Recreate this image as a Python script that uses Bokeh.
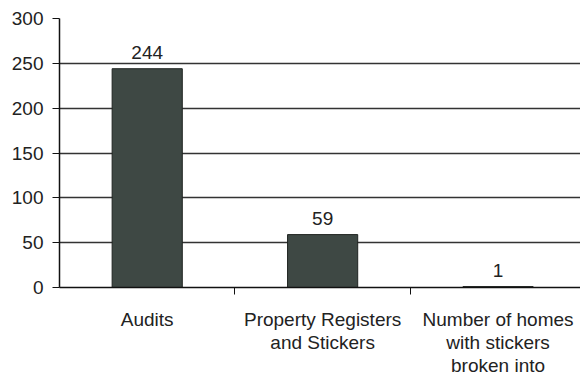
from bokeh.plotting import figure
from bokeh.models import Range1d, FixedTicker, ColumnDataSource
from bokeh.core.properties import value
from bokeh.embed import file_html
from bokeh.resources import INLINE

categories = ["Audits", "Property Registers\nand Stickers", "Number of homes\nwith stickers\nbroken into"]
counts = [244, 59, 1]
y_ticks = [0, 50, 100, 150, 200, 250, 300]

xs = [i + 1 for i in range(len(categories))]
src = ColumnDataSource(dict(x=xs, top=counts, label=[str(c) for c in counts]))

FONT = "Liberation Sans"
FS = "19px"

p = figure(width=580, height=378, output_backend="svg", toolbar_location=None,
           x_range=Range1d(0.5, 3.47), y_range=Range1d(0, 300),
           min_border_left=59, min_border_top=18, min_border_right=0, min_border_bottom=89)
p.outline_line_color = None
p.background_fill_color = "white"
p.border_fill_color = "white"

p.vbar(x="x", top="top", width=0.4, bottom=0, source=src,
       fill_color="#3e4844", line_color="#1f2421", line_width=1)

p.text(x="x", y="top", text="label", source=src, text_align="center",
       text_baseline="bottom", y_offset=-10, text_font=value(FONT),
       text_font_size=FS, text_color="#222222")

# y axis
p.yaxis.ticker = FixedTicker(ticks=y_ticks)
p.yaxis.axis_line_color = "#111111"
p.yaxis.axis_line_width = 1.5
p.yaxis.major_tick_line_color = "#111111"
p.yaxis.major_tick_out = 7
p.yaxis.major_tick_in = 0
p.yaxis.minor_tick_line_color = None
p.yaxis.major_label_text_font = FONT
p.yaxis.major_label_text_font_size = FS
p.yaxis.major_label_text_color = "#222222"
p.yaxis.major_label_standoff = 9

# x axis
p.xaxis.ticker = FixedTicker(ticks=xs, minor_ticks=[1.5, 2.5, 3.5])
p.xaxis.major_label_overrides = {x: c for x, c in zip(xs, categories)}
p.xaxis.axis_line_color = "#111111"
p.xaxis.axis_line_width = 1.5
p.xaxis.major_tick_line_color = None
p.xaxis.major_tick_out = 7
p.xaxis.major_tick_in = 0
p.xaxis.minor_tick_line_color = "#111111"
p.xaxis.minor_tick_out = 7
p.xaxis.minor_tick_in = 0
p.xaxis.major_label_text_font = FONT
p.xaxis.major_label_text_font_size = FS
p.xaxis.major_label_text_color = "#222222"
p.xaxis.major_label_text_line_height = 1.1
p.xaxis.major_label_standoff = 14

p.xgrid.grid_line_color = None
p.ygrid.ticker = FixedTicker(ticks=y_ticks)
p.ygrid.grid_line_color = "#333333"
p.ygrid.grid_line_width = 1.3

open("out.html", "w").write(file_html(p, INLINE))
